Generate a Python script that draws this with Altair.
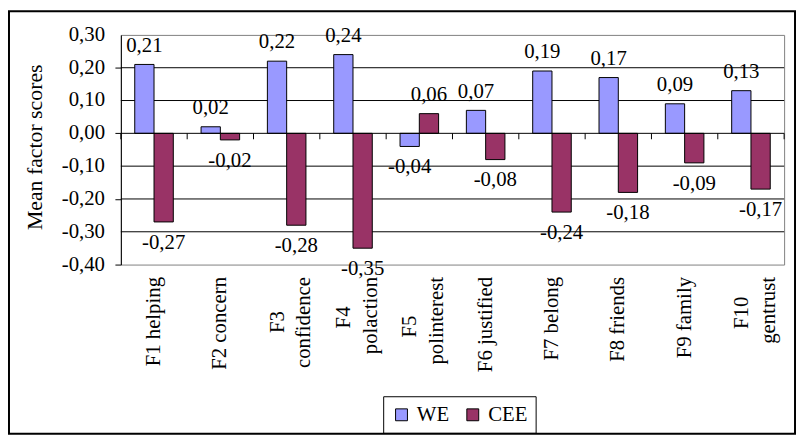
import altair as alt
import pandas as pd

# ---- data ----
categories = ["F1 helping", "F2 concern", "F3\nconfidence", "F4\npolaction",
              "F5\npolinterest", "F6 justified", "F7 belong", "F8 friends",
              "F9 family", "F10\ngentrust"]
we_values = [0.21, 0.02, 0.22, 0.24, -0.04, 0.07, 0.19, 0.17, 0.09, 0.13]
cee_values = [-0.27, -0.02, -0.28, -0.35, 0.06, -0.08, -0.24, -0.18, -0.09, -0.17]
series_names = ["WE", "CEE"]
series_colors = ["#9999FF", "#993366"]
y_ticks = [-0.4, -0.3, -0.2, -0.1, 0.0, 0.1, 0.2, 0.3]
grid_values = [-0.3, -0.2, -0.1, 0.1, 0.2]

rows = []
for c, w, e in zip(categories, we_values, cee_values):
    rows.append({"cat": c, "series": "WE", "value": w})
    rows.append({"cat": c, "series": "CEE", "value": e})
df = pd.DataFrame(rows)
df["label"] = df["value"].map(lambda v: f"{v:.2f}".replace(".", ","))

cat_df = pd.DataFrame({"cat": categories})
grid_df = pd.DataFrame({"value": grid_values})
tick_df = pd.DataFrame({"value": y_ticks})
tick_df["label"] = tick_df["value"].map(lambda v: f"{v:.2f}".replace(".", ","))
one_df = pd.DataFrame({"a": [0]})

FONT = "Liberation Serif"
LINE_H = 18

# axis shows single-line labels and the (long) second line of two-line labels;
# the short first line is centred on it by a separate text layer
label_expr = ("indexof(datum.label, '\\n') >= 0 ? "
              "['', split(datum.label, '\\n')[1]] : datum.label")

x_scale = alt.Scale(paddingInner=0, paddingOuter=0)
x_axis = alt.Axis(title=None, labelAngle=-90, labelAlign="right",
                  labelBaseline="middle", labelPadding=12,
                  labelFontSize=21, labelFont=FONT, labelColor="black",
                  labelLineHeight=LINE_H, labelLimit=300,
                  labelExpr=label_expr,
                  ticks=False, domain=False, grid=False)
xoff = alt.XOffset("series:N", sort=series_names,
                   scale=alt.Scale(paddingOuter=0.72, paddingInner=0))
y_scale = alt.Scale(domain=[-0.4, 0.3], nice=False, zero=False)
y_axis = alt.Axis(values=y_ticks, title="Mean factor scores", labels=False,
                  tickSize=6, tickColor="black", domainColor="black",
                  titleFont=FONT, titleFontSize=22, titleFontWeight="normal",
                  titleColor="black", titleX=-87, titleY=113,
                  titleAngle=270, titleAlign="center", titleBaseline="middle",
                  grid=False)


def X(**kw):
    return alt.X("cat:N", sort=categories, scale=x_scale, axis=x_axis, **kw)


def Y(field="value:Q"):
    return alt.Y(field, scale=y_scale, axis=y_axis)


gridlines = alt.Chart(grid_df).mark_rule(color="black", strokeWidth=1).encode(y=Y())

tick_labels = alt.Chart(tick_df).mark_text(
    align="right", baseline="middle", fontSize=21, font=FONT, color="black"
).encode(x=alt.value(-16), y=Y(), text="label:N")

first_lines = alt.Chart(cat_df).transform_filter(
    "indexof(datum.cat, '\\n') >= 0"
).transform_calculate(
    first="split(datum.cat, '\\n')[0]",
    ypos="height + 12 + length(split(datum.cat, '\\n')[1]) * 4.6",
).mark_text(angle=270, align="center", baseline="middle", fontSize=21, font=FONT,
            color="black", xOffset=-LINE_H / 2).encode(
    x=X(), y=alt.Y("ypos:Q", scale=None, axis=None), text="first:N")

bars = alt.Chart(df).mark_bar(stroke="black", strokeWidth=1).encode(
    x=X(), xOffset=xoff, y=Y(),
    color=alt.Color("series:N",
                    scale=alt.Scale(domain=series_names, range=series_colors),
                    legend=alt.Legend(title=None, orient="none", legendX=265, legendY=365,
                                      direction="horizontal", symbolType="square",
                                      symbolSize=144, symbolStrokeColor="black",
                                      symbolStrokeWidth=1, labelFontSize=21,
                                      labelFont=FONT, labelColor="black",
                                      strokeColor="black", padding=8,
                                      columnPadding=13, labelOffset=5))
)

pos_labels = alt.Chart(df).transform_filter("datum.value >= 0").mark_text(
    baseline="alphabetic", dy=-13, fontSize=21, font=FONT, color="black"
).encode(x=X(), xOffset=xoff, y=Y(), text="label:N")

neg_labels = alt.Chart(df).transform_filter("datum.value < 0").mark_text(
    baseline="top", dy=10, fontSize=21, font=FONT, color="black"
).encode(x=X(), xOffset=xoff, y=Y(), text="label:N")

zero_line = alt.Chart(one_df).mark_rule(color="black", strokeWidth=1).encode(
    y=alt.datum(0))

zero_ticks = alt.Chart(cat_df).mark_rule(color="black", strokeWidth=1, y2Offset=6).encode(
    x=X(bandPosition=0), y=alt.datum(0), y2=alt.datum(0))

end_tick = alt.Chart(cat_df).transform_filter(
    alt.datum.cat == categories[-1]).mark_rule(color="black", strokeWidth=1, y2Offset=6).encode(
    x=X(bandPosition=1), y=alt.datum(0), y2=alt.datum(0))

frame = alt.Chart(one_df).mark_rect(filled=False, stroke="black", strokeWidth=2).encode(
    x=alt.value(-113), x2=alt.value(681), y=alt.value(-24), y2=alt.value(403))

chart = alt.layer(gridlines, bars, zero_line, zero_ticks, end_tick, pos_labels, neg_labels,
                  tick_labels, first_lines, frame).properties(
    width=670, height=232,
    autosize=alt.AutoSizeParams(type="none"),
    padding={"left": 114, "top": 25, "right": 12, "bottom": 173},
    background="white",
).configure_view(stroke="#808080", strokeWidth=1)

chart.save("out.html", embed_options={"renderer": "svg", "actions": False})
